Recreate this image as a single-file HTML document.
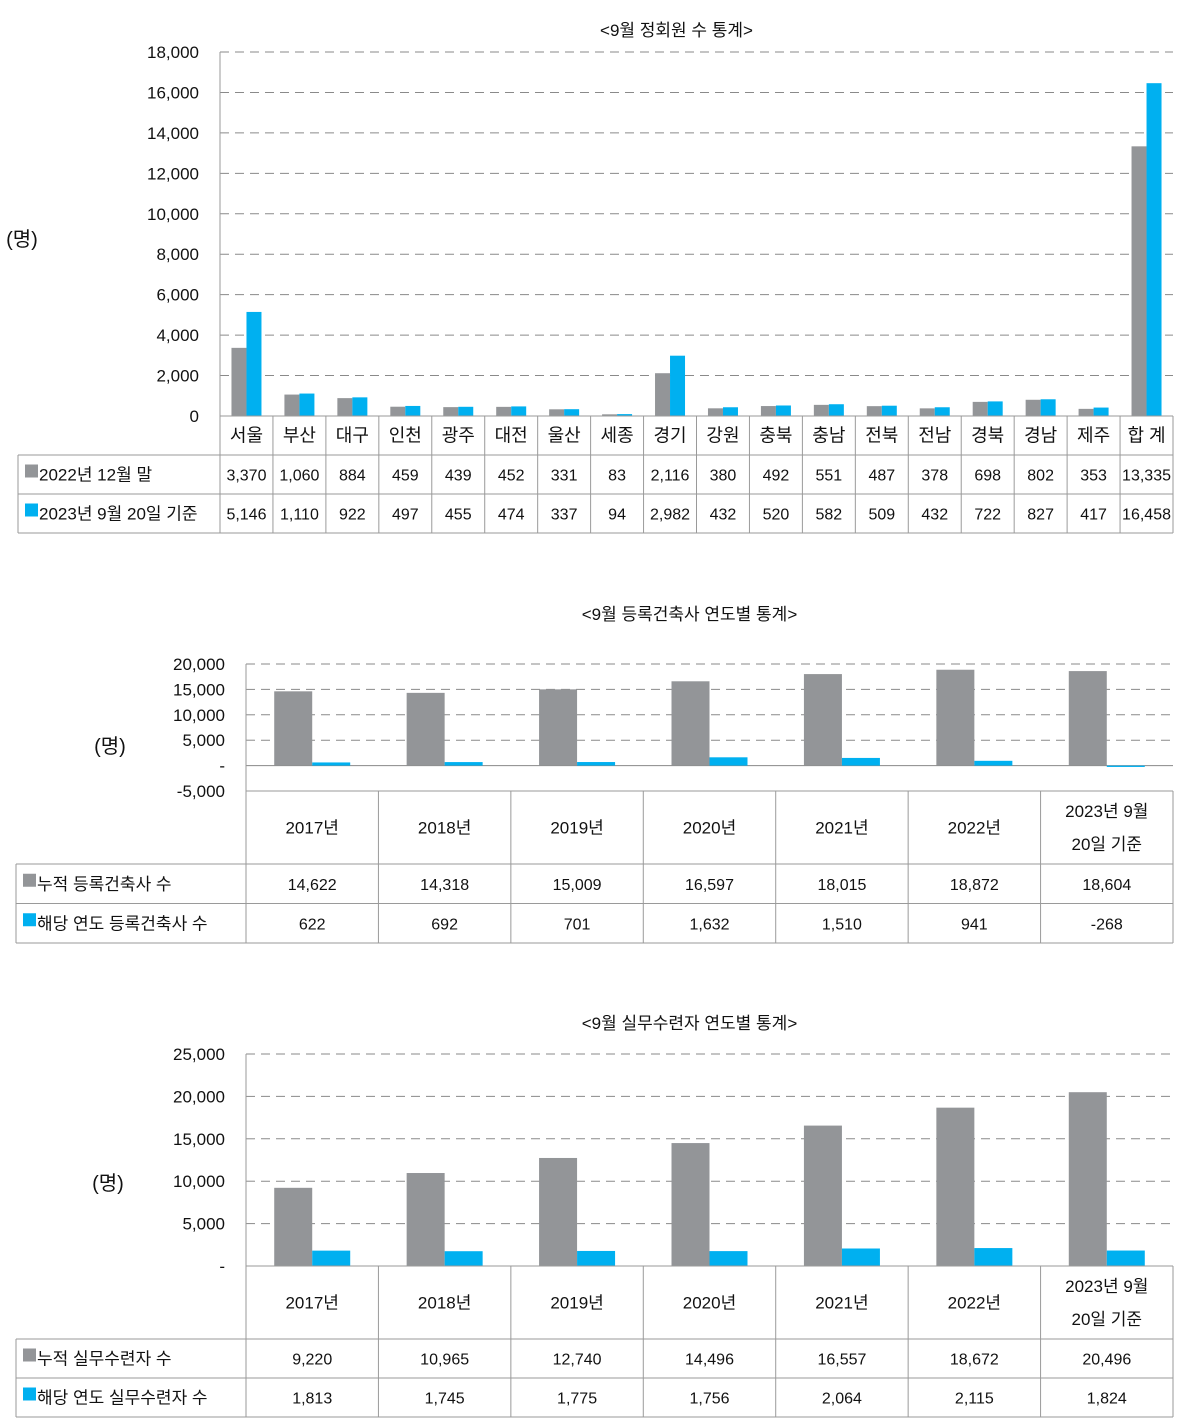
<!DOCTYPE html>
<html><head><meta charset="utf-8">
<style>
html,body{margin:0;padding:0;background:#fff;}
svg{display:block;font-family:"Liberation Sans","Noto Sans CJK KR",sans-serif;}
</style></head>
<body>
<svg id="s" width="1183" height="1425" viewBox="0 0 1183 1425" xmlns="http://www.w3.org/2000/svg"></svg>
<script>
// Chart 1 data
const c1Categories = ["서울","부산","대구","인천","광주","대전","울산","세종","경기","강원","충북","충남","전북","전남","경북","경남","제주","합 계"];
const c1Series2022 = [3370,1060,884,459,439,452,331,83,2116,380,492,551,487,378,698,802,353,13335];
const c1Series2023 = [5146,1110,922,497,455,474,337,94,2982,432,520,582,509,432,722,827,417,16458];
const c1Ticks = [0,2000,4000,6000,8000,10000,12000,14000,16000,18000];
const c1TickLabels = ["0","2,000","4,000","6,000","8,000","10,000","12,000","14,000","16,000","18,000"];
const c1Names = ["2022년 12월 말","2023년 9월 20일 기준"];
// Chart 2 data
const c2Categories = ["2017년","2018년","2019년","2020년","2021년","2022년","2023년 9월|20일 기준"];
const c2Cumulative = [14622,14318,15009,16597,18015,18872,18604];
const c2Yearly = [622,692,701,1632,1510,941,-268];
const c2Ticks = [-5000,0,5000,10000,15000,20000];
const c2TickLabels = ["-5,000","-","5,000","10,000","15,000","20,000"];
const c2Names = ["누적 등록건축사 수","해당 연도 등록건축사 수"];
// Chart 3 data
const c3Categories = ["2017년","2018년","2019년","2020년","2021년","2022년","2023년 9월|20일 기준"];
const c3Cumulative = [9220,10965,12740,14496,16557,18672,20496];
const c3Yearly = [1813,1745,1775,1756,2064,2115,1824];
const c3Ticks = [0,5000,10000,15000,20000,25000];
const c3TickLabels = ["-","5,000","10,000","15,000","20,000","25,000"];
const c3Names = ["누적 실무수련자 수","해당 연도 실무수련자 수"];

const NS="http://www.w3.org/2000/svg";
const svg=document.getElementById('s');
const GRAY="#939598", BLUE="#00b0f0", LINE="#9a9a9a";
function el(tag,attrs,parent){const e=document.createElementNS(NS,tag);for(const k in attrs)e.setAttribute(k,attrs[k]);(parent||svg).appendChild(e);return e;}
function txt(x,y,s,size,anchor,g){const t=el('text',{x:x,y:y,'font-size':size,'text-anchor':anchor||'middle',fill:'#111'},g);t.textContent=s;return t;}
function fmt(v){return v.toLocaleString('en-US');}

function drawChart(o){
  const g=el('g',{});
  
  
  const yMin=o.ticks[0], yMax=o.ticks[o.ticks.length-1];
  const Y=v=>o.plotBottom-(v-yMin)/(yMax-yMin)*(o.plotBottom-o.plotTop);
  const n=o.cats.length, cw=(o.x1-o.x0)/n;
  const X=i=>o.x0+cw*(i+0.5);
  const title=txt((o.x0+o.x1)/2-20,o.titleY,o.title,17,'middle',g);
  
  
  const unit=txt(o.unitX,o.unitY,'(명)',20,'middle',g);
  
  
  o.ticks.forEach((t,i)=>{
    const y=Y(t);
    const solid=(t===0 && o.solidZero);
    const ln=el('line',{x1:o.x0,x2:o.x1,y1:y,y2:y,stroke:solid?'#888':'#8a8a8a','stroke-width':1,'stroke-dasharray':solid?'none':'9,6'},g);
    
    
    const tl=txt(o.x0-21,y+6,o.tickLabels[i],17,'end',g);
    
    
  });
  const ax=el('line',{x1:o.x0,x2:o.x0,y1:o.plotTop,y2:o.tableTop,stroke:LINE},g);
  
  
  const y0=Y(0);
  o.cats.forEach((c,i)=>{
    const cx=X(i);
    [o.s1,o.s2].forEach((s,k)=>{
      const v=s[i];
      const top=Math.min(Y(v),y0), h=Math.max(Math.abs(Y(v)-y0),1);
      const r=el('rect',{x:k===0?cx-o.bw:cx,y:top,width:o.bw,height:h,fill:k===0?GRAY:BLUE},g);
      
      
    });
  });
  // table
  const rows=[o.tableTop,o.hdrBottom,o.hdrBottom+o.rowH,o.hdrBottom+2*o.rowH];
  const L=o.tableLeft;
  el('line',{x1:o.x0,x2:o.x1,y1:rows[0],y2:rows[0],stroke:LINE},g);
  for(let r=1;r<4;r++) el('line',{x1:L,x2:o.x1,y1:rows[r],y2:rows[r],stroke:LINE},g);
  el('line',{x1:L,x2:L,y1:rows[1],y2:rows[3],stroke:LINE},g);
  for(let i=0;i<=n;i++){const x=o.x0+cw*i;el('line',{x1:x,x2:x,y1:rows[0],y2:rows[3],stroke:LINE},g);}
  o.cats.forEach((c,i)=>{
    const parts=c.split('|');
    const mid=(rows[0]+rows[1])/2;
    parts.forEach((p,j)=>{
      const t=txt(X(i),mid+(j-(parts.length-1)/2)*33+6,p,o.catSize,'middle',g);
      
      
    });
    [o.s1,o.s2].forEach((s,k)=>{
      const t=txt(X(i),rows[1+k]+o.rowH/2+6,fmt(s[i]),o.valSize,'middle',g);
      
      
    });
  });
  o.names.forEach((nm,k)=>{
    const yy=rows[1+k]+o.rowH/2;
    const sw=el('rect',{x:L+7,y:yy-10,width:13,height:13,fill:k===0?GRAY:BLUE},g);
    
    
    const t=txt(L+21,yy+6,nm,o.valSize+1,'start',g);
    
    
  });
}

drawChart({name:'regular-members-chart',title:'<9월 정회원 수 통계>',titleY:36,cats:c1Categories,s1:c1Series2022,s2:c1Series2023,
  ticks:c1Ticks,tickLabels:c1TickLabels,names:c1Names,x0:220,x1:1173,plotTop:52,plotBottom:416,tableTop:416,hdrBottom:455,rowH:39,
  tableLeft:18,bw:15,unitX:22,unitY:246,catSize:18,valSize:16,solidZero:false});
drawChart({name:'registered-architects-chart',title:'<9월 등록건축사 연도별 통계>',titleY:620,cats:c2Categories,s1:c2Cumulative,s2:c2Yearly,
  ticks:c2Ticks,tickLabels:c2TickLabels,names:c2Names,x0:246,x1:1173,plotTop:664,plotBottom:791,tableTop:791,hdrBottom:864,rowH:39.5,
  tableLeft:16,bw:38,unitX:110,unitY:753,catSize:17,valSize:16,solidZero:true});
drawChart({name:'trainees-chart',title:'<9월 실무수련자 연도별 통계>',titleY:1029,cats:c3Categories,s1:c3Cumulative,s2:c3Yearly,
  ticks:c3Ticks,tickLabels:c3TickLabels,names:c3Names,x0:246,x1:1173,plotTop:1054,plotBottom:1266,tableTop:1266,hdrBottom:1339,rowH:39,
  tableLeft:16,bw:38,unitX:108,unitY:1190,catSize:17,valSize:16,solidZero:false});
</script>
</body></html>
